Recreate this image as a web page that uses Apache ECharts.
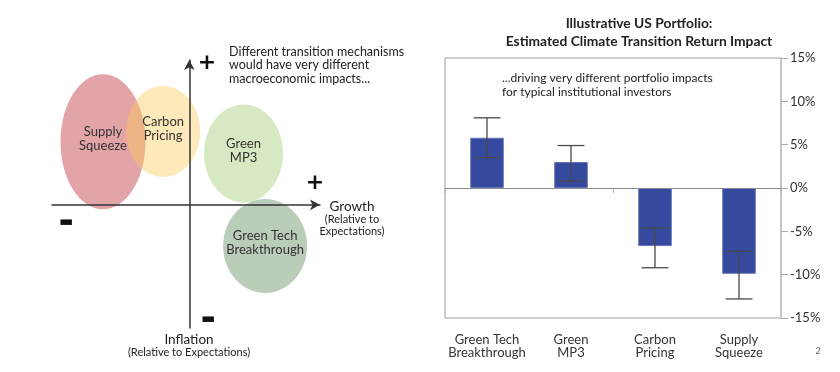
<!DOCTYPE html>
<html><head><meta charset="utf-8">
<script src="https://cdn.jsdelivr.net/npm/echarts@6/dist/echarts.min.js"></script>
<style>html,body{margin:0;padding:0;background:#fff}#c{width:840px;height:372px}</style>
</head><body><div id="c"></div>
<script>
// ---- Right panel: portfolio impact (%) ----
const categories = ['Green Tech\nBreakthrough', 'Green\nMP3', 'Carbon\nPricing', 'Supply\nSqueeze'];
const impactValues = [5.8, 3.0, -6.7, -9.9];
const errorLow = [3.5, 0.8, -9.2, -12.8];
const errorHigh = [8.1, 4.9, -4.6, -7.3];
const yMin = -15, yMax = 15, yStep = 5;

// ---- Left panel: scenarios on growth / inflation plane (concept units) ----
const scenarioNames = ['Supply\nSqueeze', 'Carbon\nPricing', 'Green\nMP3', 'Green Tech\nBreakthrough'];
const growthCenter = [-6.6, -2.0, 4.15, 5.8];
const inflationCenter = [4.35, 5.07, 3.55, -2.84];
const growthRadius = [3.25, 2.83, 3.02, 3.21];
const inflationRadius = [4.66, 3.14, 3.38, 3.24];
const scenarioColors = ['#e3a4a8', 'rgba(250,203,88,0.42)', '#d6e9c2', '#b9cdb8'];
const growthRange = [-10.5, 10];
const inflationRange = [-8.5, 10];

const FONT = 'Lato, "Open Sans", sans-serif';
const chart = echarts.init(document.getElementById('c'), null, {renderer: 'canvas'});

const ellipseData = growthCenter.map((g, i) => [g, inflationCenter[i], growthRadius[i], inflationRadius[i]]);
const errData = categories.map((c, i) => [i, errorLow[i], errorHigh[i]]);

const axisArrowLine = {show: true, onZero: true, symbol: ['none', 'arrow'], symbolSize: [8, 10],
  lineStyle: {color: '#333', width: 1.5}};

chart.setOption({
  animation: false,
  backgroundColor: '#fff',
  title: {
    text: 'Illustrative US Portfolio:\nEstimated Climate Transition Return Impact',
    left: 634, top: 10, textAlign: 'center',
    textStyle: {fontFamily: FONT, fontWeight: 'bold', fontSize: 13.8, color: '#222', lineHeight: 18}
  },
  grid: [
    {left: 52, width: 268, top: 60, height: 268},
    {left: 445, right: 59, top: 58, bottom: 54, show: true, borderColor: '#9a9a9a', borderWidth: 1}
  ],
  xAxis: [
    {gridIndex: 0, type: 'value', min: growthRange[0], max: growthRange[1], z: 10,
      axisLine: axisArrowLine, axisTick: {show: false}, axisLabel: {show: false}, splitLine: {show: false}},
    {gridIndex: 1, type: 'category', data: categories, z: 3,
      axisLine: {show: true, onZero: true, lineStyle: {color: '#8a8a8a', width: 1}},
      axisTick: {show: true, length: 5, lineStyle: {color: '#aaa'}},
      axisLabel: {show: false}},
    {gridIndex: 1, type: 'category', data: categories, position: 'bottom',
      axisLine: {show: false, onZero: false}, axisTick: {show: false},
      axisLabel: {show: true, interval: 0, fontFamily: FONT, fontSize: 13, color: '#333', margin: 15, lineHeight: 13}}
  ],
  yAxis: [
    {gridIndex: 0, type: 'value', min: inflationRange[0], max: inflationRange[1], z: 10,
      axisLine: axisArrowLine, axisTick: {show: false}, axisLabel: {show: false}, splitLine: {show: false}},
    {gridIndex: 1, type: 'value', position: 'right', min: yMin, max: yMax, interval: yStep,
      axisLine: {show: true, lineStyle: {color: '#c4c4c4', width: 2}},
      axisTick: {show: true, length: 7, lineStyle: {color: '#aaa'}},
      axisLabel: {formatter: '{value}%', fontFamily: FONT, fontSize: 13, color: '#333', margin: 9},
      splitLine: {show: false}}
  ],
  series: [
    {
      type: 'custom', xAxisIndex: 0, yAxisIndex: 0, data: ellipseData, encode: {x: 0, y: 1}, z: 2,
      renderItem: (params, api) => {
        const i = params.dataIndex;
        const c = api.coord([api.value(0), api.value(1)]);
        const s = api.size([api.value(2), api.value(3)]);
        return {type: 'group', children: [
          {type: 'ellipse', shape: {cx: c[0], cy: c[1], rx: s[0], ry: s[1]}, style: {fill: scenarioColors[i]}},
          {type: 'text', style: {text: scenarioNames[i], x: c[0], y: c[1] - 3, align: 'center', verticalAlign: 'middle',
            fill: '#333', font: '13px ' + FONT, lineHeight: 14}}
        ]};
      }
    },
    {
      type: 'bar', xAxisIndex: 1, yAxisIndex: 1, data: impactValues, barWidth: '40%', z: 2,
      itemStyle: {color: '#354a9e', borderColor: '#6576b6', borderWidth: 1}
    },
    {
      type: 'custom', xAxisIndex: 1, yAxisIndex: 1, data: errData, encode: {x: 0, y: [1, 2]}, z: 4,
      renderItem: (params, api) => {
        const lo = api.coord([api.value(0), api.value(1)]);
        const hi = api.coord([api.value(0), api.value(2)]);
        const w = api.size([1, 0])[0] * 0.32 / 2;
        const st = {stroke: '#4a4a4a', lineWidth: 1.3};
        return {type: 'group', children: [
          {type: 'line', shape: {x1: lo[0], y1: lo[1], x2: hi[0], y2: hi[1]}, style: st},
          {type: 'line', shape: {x1: lo[0] - w, y1: lo[1], x2: lo[0] + w, y2: lo[1]}, style: st},
          {type: 'line', shape: {x1: hi[0] - w, y1: hi[1], x2: hi[0] + w, y2: hi[1]}, style: st}
        ]};
      }
    }
  ],
  graphic: [
    {type: 'text', left: 229, top: 45, style: {text: 'Different transition mechanisms\nwould have very different\nmacroeconomic impacts...',
      font: '12.5px ' + FONT, fill: '#222', lineHeight: 13.5}},
    {type: 'text', x: 207, y: 63, style: {text: '+', font: 'bold 22px "DejaVu Sans"', fill: '#111', align: 'center', verticalAlign: 'middle'}},
    {type: 'text', x: 315, y: 183, style: {text: '+', font: 'bold 22px "DejaVu Sans"', fill: '#111', align: 'center', verticalAlign: 'middle'}},
    {type: 'text', x: 66, y: 222, style: {text: '\u25AC', font: '15px "DejaVu Sans"', fill: '#111', align: 'center', verticalAlign: 'middle'}},
    {type: 'text', x: 208, y: 319, style: {text: '\u25AC', font: '15px "DejaVu Sans"', fill: '#111', align: 'center', verticalAlign: 'middle'}},
    {type: 'text', x: 352, y: 207, style: {text: 'Growth', font: '13.5px ' + FONT, fill: '#222', align: 'center', verticalAlign: 'middle'}},
    {type: 'text', x: 352, y: 225, style: {text: '(Relative to\nExpectations)', font: '11px ' + FONT, fill: '#222', align: 'center', verticalAlign: 'middle', lineHeight: 12}},
    {type: 'text', x: 189, y: 340, style: {text: 'Inflation', font: '13.5px ' + FONT, fill: '#222', align: 'center', verticalAlign: 'middle'}},
    {type: 'text', x: 189, y: 352, style: {text: '(Relative to Expectations)', font: '11px ' + FONT, fill: '#222', align: 'center', verticalAlign: 'middle'}},
    {type: 'text', left: 502, top: 71, style: {text: '...driving very different portfolio impacts\nfor typical institutional investors',
      font: '12px ' + FONT, fill: '#222', lineHeight: 14}},
    {type: 'text', x: 818, y: 351, style: {text: '2', font: '9px ' + FONT, fill: '#666', align: 'center', verticalAlign: 'middle'}}
  ]
});
</script></body></html>
